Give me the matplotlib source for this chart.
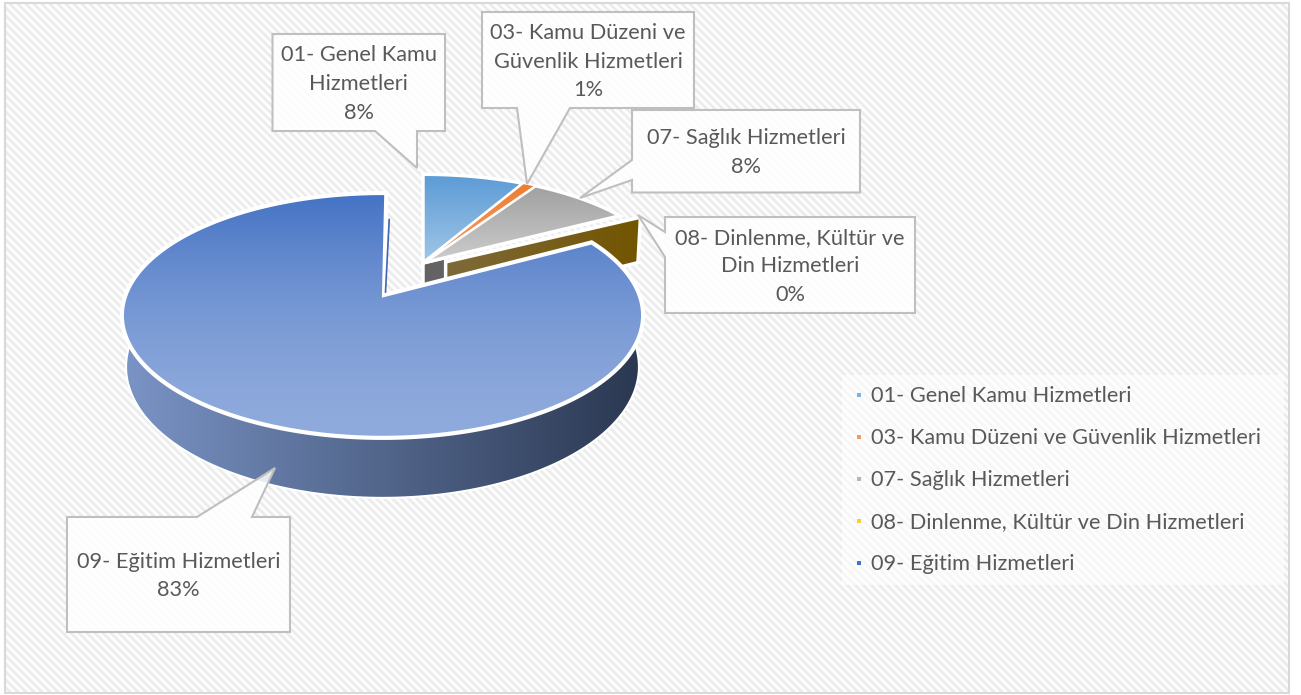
import matplotlib
matplotlib.use('Agg')
import matplotlib.pyplot as plt
import numpy as np
from matplotlib.patches import Polygon, Rectangle

plt.rcParams['font.family'] = ['Lato', 'DejaVu Sans']

names = ['01- Genel Kamu Hizmetleri', '03- Kamu Düzeni ve Güvenlik Hizmetleri',
         '07- Sağlık Hizmetleri', '08- Dinlenme, Kültür ve Din Hizmetleri',
         '09- Eğitim Hizmetleri']
callout_names = ['01- Genel Kamu\nHizmetleri', '03- Kamu Düzeni ve\nGüvenlik Hizmetleri',
                 '07- Sağlık Hizmetleri', '08- Dinlenme, Kültür ve\nDin Hizmetleri',
                 '09- Eğitim Hizmetleri']
shares = [7.5, 1.0, 8.0, 0.3, 83.2]

RX, RY, K = 258, 119, 0.167
START = 1.0
TEXT = '#595959'

fig = plt.figure(figsize=(13.01, 6.95), dpi=100)
ax = fig.add_axes([0, 0, 1, 1])


def project(theta, apex, sx=1.0, sy=1.0, depth=0.0):
    t = np.radians(theta)
    w = 1 + K * np.cos(t)
    x = apex[0] + RX * sx * np.sin(t) / w
    y = apex[1] - RY * sy * np.cos(t) / w + depth / w
    return np.column_stack([x, y])


def gradient(poly, c0, c1, horizontal=False, z=2, edge='white', lw=2.5, ease=1.0):
    # fill a polygon with a linear gradient through a clipped image
    c0 = np.array(matplotlib.colors.to_rgb(c0))
    c1 = np.array(matplotlib.colors.to_rgb(c1))
    t = 1 - (1 - np.linspace(0, 1, 256)[:, None]) ** ease
    img = c0 + (c1 - c0) * t
    x0, y0 = poly.min(axis=0)
    x1, y1 = poly.max(axis=0)
    if horizontal:
        img = img.reshape(1, 256, 3)
    else:
        img = img.reshape(256, 1, 3)
    im = ax.imshow(img, extent=(x0, x1, y1, y0), aspect='auto', zorder=z, interpolation='bilinear')
    clip = Polygon(poly, closed=True, transform=ax.transData)
    im.set_clip_path(clip)
    ax.add_patch(Polygon(poly, closed=True, fc='none', ec=edge, lw=lw, zorder=z + 0.1, joinstyle='miter'))


# page background with diagonal stripes
yy, xx = np.mgrid[0:695, 0:1301]
stripes = 0.958 + 0.042 * np.sin(2 * np.pi * (xx - yy) / 8.0)
ax.imshow(np.clip(stripes, 0, 1), cmap='gray', vmin=0, vmax=1, extent=(0, 1301, 695, 0),
          aspect='auto', zorder=0, interpolation='nearest')
ax.add_patch(Rectangle((-5, -5), 1311, 8, fc='white', ec='none', zorder=0.5))
ax.add_patch(Rectangle((-5, 693), 1311, 8, fc='white', ec='none', zorder=0.5))
ax.add_patch(Rectangle((-5, -5), 10, 705, fc='white', ec='none', zorder=0.5))
ax.add_patch(Rectangle((1289, -5), 20, 705, fc='white', ec='none', zorder=0.5))
ax.add_patch(Rectangle((5, 3), 1284, 690, fc='none', ec='#D9D9D9', lw=1.5, zorder=0.6))

# slice angles, clockwise from the top
edges = START + np.cumsum([0] + shares) * 3.6
small_apex = (423, 263)
brown_apex = (441, 263)
big_apex = (384, 295)
SX, SY = 0.95, 0.87
SMALL_DEPTH = 49

# wall of the 07 slice, then the wall of the 08 slice
th = edges[3]
rim = project(np.array([edges[4]]), brown_apex, SX, SY)[0]
rim_low = project(np.array([edges[4]]), brown_apex, SX, SY, SMALL_DEPTH)[0] + (-2.5, 0)
wall = np.array([brown_apex, rim, rim_low, (brown_apex[0], brown_apex[1] + SMALL_DEPTH)])
gradient(wall, '#7F6A3C', '#725500', horizontal=True, z=2)

g_rim = project(np.array([th]), small_apex, SX, SY)[0]
f = 0.115
box_top = np.array(small_apex) + f * (g_rim - small_apex)
box = np.array([small_apex, box_top, box_top + (0, 40), (small_apex[0], small_apex[1] + 40)])
ax.add_patch(Polygon(box, closed=True, fc='#636363', ec='white', lw=2.5, zorder=2.5))

# exploded slices on top, orange last so its thin point survives the white edges
styles = [('#5B9BD5', '#A2C6E8'), ('#ED7D31', '#F4A26E'), ('#A0A0A0', '#CDCDCD')]
for i in [0, 2, 1]:
    first = edges[i] - START if i == 0 else edges[i]
    a = np.linspace(first, edges[i + 1], 40)
    pts = np.vstack([small_apex, project(a, small_apex, SX, SY)])
    gradient(pts, styles[i][0], styles[i][1], z=3 + (i == 1) * 0.4, lw=1.2 if i == 1 else 2.5)

# big slice wall and top
a = np.linspace(edges[4], edges[5] - 70, 200)
top_rim = project(a, big_apex, 0.996) + (-1.5, 0)
low_rim = project(a, big_apex, 0.98, 1.0, 50) + (-1.5, 0)
gradient(np.vstack([top_rim, low_rim[::-1]]), '#7A94C6', '#2A3750', horizontal=True, z=4, edge='white', lw=1.5)
a = np.linspace(edges[4], edges[5], 300)
big_rim = project(a, big_apex, 0.996) + (-1.5, 0)
pts = np.vstack([big_apex, big_rim])
gradient(pts, '#4472C4', '#8FAADC', z=5, lw=3, ease=1.7)
# inner face of the big slice seen edge-on
top_end = np.array(big_apex) + 0.74 * (big_rim[-1] - big_apex) + (3.5, 0)
ax.plot([big_apex[0] + 1.5, top_end[0]], [big_apex[1] - 3, top_end[1]], color='#3F66B0', lw=1.2, zorder=5.3)

# callouts: box corners and tail
boxes = [(272.5, 34, 172.5, 97), (482, 12, 212, 96), (632, 110, 228, 82.5), (665, 217, 250, 96), (67, 517, 223, 115)]
tails = [[(375, 131), (417, 168), (417, 131)],
         [(517, 108), (527, 184), (570, 108)],
         [(632, 160), (580, 198), (632, 180)],
         [(665, 232), (638, 215), (665, 257)],
         [(197, 517), (275, 468), (252, 517)]]
for i in range(5):
    x, y, w, h = boxes[i]
    t = tails[i]
    if i in (0, 1):
        outline = [(x, y), (x + w, y), (x + w, y + h), t[2], t[1], t[0], (x, y + h)]
    elif i == 4:
        outline = [(x, y), t[0], t[1], t[2], (x + w, y), (x + w, y + h), (x, y + h)]
    else:
        outline = [(x, y), (x + w, y), (x + w, y + h), (x, y + h), t[2], t[1], t[0]]
    ax.add_patch(Polygon(outline, closed=True, fc=(1, 1, 1, 0.85), ec='#BFBFBF', lw=1.5, zorder=6, joinstyle='miter'))
    ax.text(x + w / 2, y + h / 2 + 1.5, '%s\n%d%%' % (callout_names[i], round(shares[i])), ha='center', va='center',
            fontsize=15.7, color=TEXT, linespacing=1.55, zorder=7)

# legend
legend_colors = ['#7FB2E0', '#F29A63', '#B5B5B5', '#FFCB33', '#4472C4']
ax.add_patch(Rectangle((842, 375), 442, 210, fc='white', alpha=0.6, ec='none', zorder=1))
for i, y in enumerate([395, 437, 479, 521, 563]):
    ax.plot([859], [y], marker='s', ms=3, mew=0, color=legend_colors[i], zorder=3)
    ax.text(871, y + 1, names[i], va='center', ha='left', fontsize=15.7, color=TEXT, zorder=3)

ax.set_xlim(0, 1301)
ax.set_ylim(695, 0)
ax.axis('off')
fig.savefig('out.png', dpi=100)
